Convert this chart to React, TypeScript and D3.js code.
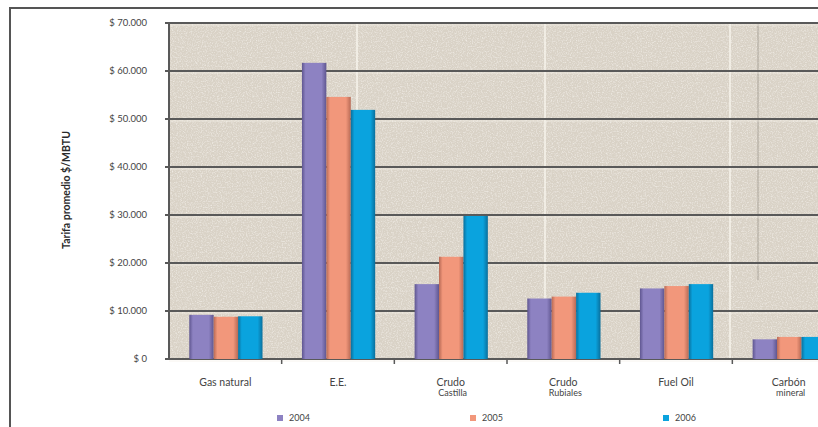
import React from "react";
import * as d3 from "d3";

const categories: string[][] = [
  ["Gas natural"],
  ["E.E."],
  ["Crudo", "Castilla"],
  ["Crudo", "Rubiales"],
  ["Fuel Oil"],
  ["Carbón", "mineral"],
];
const seriesNames = ["2004", "2005", "2006"];
const values2004 = [9200, 61700, 15600, 12600, 14700, 4100];
const values2005 = [8800, 54600, 21300, 13000, 15200, 4600];
const values2006 = [8900, 51900, 29800, 13800, 15600, 4600];
const yTicks = [0, 10000, 20000, 30000, 40000, 50000, 60000, 70000];
const yTitle = "Tarifa promedio $/MBTU";

const colors = ["#8d82c2", "#f2977b", "#0aa3de"];
const darks = ["#5f5690", "#b86a55", "#0a6f9c"];

const W = 818;
const H = 427;
const plot = { left: 169, top: 23, right: 845, bottom: 359 };

const locale = d3.formatLocale({
  decimal: ",",
  thousands: ".",
  grouping: [3],
  currency: ["$", ""],
});
const fmt = locale.format(",.0f");

export default function App() {
  const series = [values2004, values2005, values2006];
  const x = d3
    .scaleBand<number>()
    .domain(categories.map((_, i) => i))
    .range([plot.left, plot.right])
    .padding(0);
  const bw = x.bandwidth();
  const inner = d3
    .scaleBand<number>()
    .domain(seriesNames.map((_, i) => i))
    .range([bw * 0.18, bw * 0.83])
    .padding(0);
  const y = d3.scaleLinear().domain([0, 70000]).range([plot.bottom, plot.top]);

  const font = "Lato, 'Open Sans', sans-serif";

  return (
    <svg
      width={W}
      height={H}
      style={{ position: "absolute", left: 0, top: 0, background: "#fff" }}
    >
      <defs>
        <filter id="noise" x="0" y="0" width="100%" height="100%">
          <feTurbulence type="fractalNoise" baseFrequency="0.8" numOctaves="2" seed="3" result="t" />
          <feColorMatrix
            in="t"
            type="matrix"
            values="0 0 0 0 0.95  0 0 0 0 0.93  0 0 0 0 0.89  0 0 0 1.4 -0.62"
            result="n"
          />
          <feComposite in="n" in2="SourceGraphic" operator="in" result="nc" />
          <feMerge>
            <feMergeNode in="SourceGraphic" />
            <feMergeNode in="nc" />
          </feMerge>
        </filter>
        {colors.map((c, i) => (
          <linearGradient key={i} id={`g${i}`} x1="0" x2="1" y1="0" y2="0">
            <stop offset="0" stopColor={darks[i]} />
            <stop offset="0.15" stopColor={c} />
            <stop offset="0.8" stopColor={c} />
            <stop offset="1" stopColor={darks[i]} />
          </linearGradient>
        ))}
      </defs>

      {/* outer frame */}
      <rect x={10} y={8} width={W + 20} height={H + 20} fill="#fff" stroke="#555" strokeWidth={2} />

      {/* plot background */}
      <rect
        x={plot.left}
        y={plot.top}
        width={plot.right - plot.left}
        height={plot.bottom - plot.top}
        fill="#d9d2c6"
        filter="url(#noise)"
      />

      {/* scan artifacts */}
      <line x1={357} x2={357} y1={plot.top} y2={200} stroke="#fbf8f0" strokeWidth={1.5} opacity={0.9} />
      <line x1={545} x2={545} y1={plot.top} y2={340} stroke="#fbf8f0" strokeWidth={1.5} opacity={0.9} />
      <line x1={730} x2={730} y1={plot.top} y2={plot.bottom} stroke="#fbf8f0" strokeWidth={1.5} opacity={0.9} />
      <line x1={758} x2={758} y1={plot.top} y2={280} stroke="#8a857c" strokeWidth={1} opacity={0.6} />

      {/* gridlines */}
      {yTicks.map((t) => (
        <g key={t}>
          <line x1={plot.left} x2={plot.right} y1={y(t) + 2} y2={y(t) + 2} stroke="#f4f0e8" strokeWidth={1} opacity={0.7} />
          <line x1={plot.left - 4} x2={plot.right} y1={y(t)} y2={y(t)} stroke="#595959" strokeWidth={2} />
        </g>
      ))}

      {/* y axis line */}
      <line x1={plot.left} x2={plot.left} y1={plot.top} y2={plot.bottom} stroke="#595959" strokeWidth={2} />

      {/* bars */}
      {series.map((vals, si) =>
        vals.map((v, ci) => {
          const bx = (x(ci) as number) + (inner(si) as number);
          const by = y(v);
          return (
            <rect
              key={`${si}-${ci}`}
              x={bx}
              y={by}
              width={inner.bandwidth()}
              height={plot.bottom - by}
              fill={`url(#g${si})`}
            />
          );
        })
      )}

      {/* x axis ticks */}
      {categories.map((_, i) => (
        <line
          key={i}
          x1={(x(i) as number) + bw}
          x2={(x(i) as number) + bw}
          y1={plot.bottom}
          y2={plot.bottom + 5}
          stroke="#595959"
          strokeWidth={1.5}
        />
      ))}

      {/* y tick labels */}
      {yTicks.map((t) => (
        <text
          key={t}
          x={147}
          y={y(t)}
          dy="0.35em"
          textAnchor="end"
          fontFamily={font}
          fontSize={9.5}
          fill="#444"
        >
          {t === 0 ? "$ 0" : `$ ${fmt(t)}`}
        </text>
      ))}

      {/* category labels */}
      {categories.map((lines, i) => {
        const cx = (x(i) as number) + bw / 2;
        return (
          <text key={i} textAnchor="middle" fontFamily={font} fill="#444">
            {lines.map((l, li) => (
              <tspan
                key={li}
                x={cx + (li === 1 ? 2 : 0)}
                y={plot.bottom + 27 + li * 10}
                fontSize={li === 0 ? 10.5 : 9}
              >
                {l}
              </tspan>
            ))}
          </text>
        );
      })}

      {/* y title */}
      <text
        transform={`translate(70, 190) rotate(-90)`}
        textAnchor="middle"
        fontFamily={font}
        fontWeight="bold"
        fontSize={10.5}
        fill="#2a2a2a"
      >
        {yTitle}
      </text>

      {/* legend */}
      {seriesNames.map((s, i) => {
        const lx = 277 + i * 193;
        return (
          <g key={s}>
            <rect x={lx} y={415} width={6} height={6} fill={colors[i]} />
            <text x={lx + 12} y={418} dy="0.35em" fontFamily={font} fontSize={9} fill="#444">
              {s}
            </text>
          </g>
        );
      })}
    </svg>
  );
}
